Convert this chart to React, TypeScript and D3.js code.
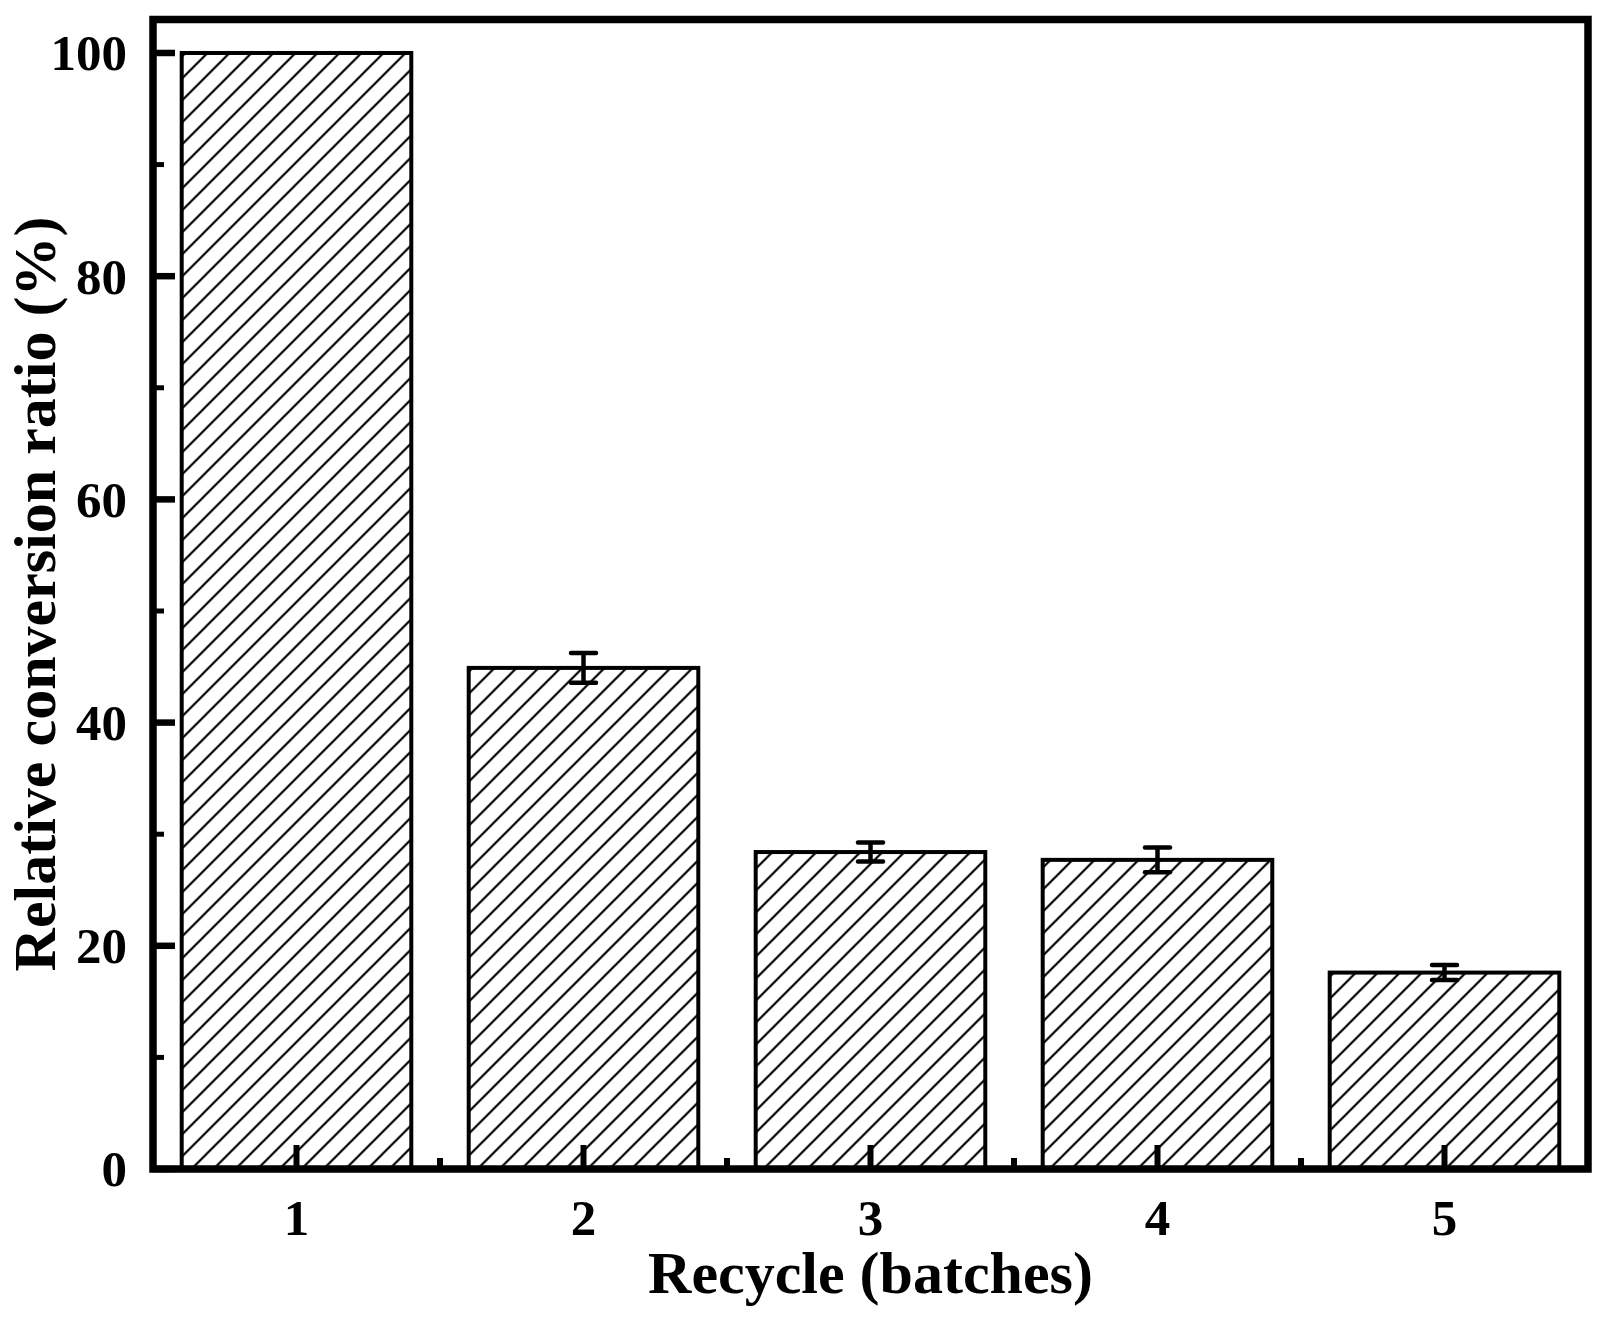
import * as d3 from "d3";

// Dados
const batches = [1, 2, 3, 4, 5];
const conversao = [100, 44.9, 28.4, 27.7, 17.6];
const erro = [0, 1.33, 0.85, 1.1, 0.67];
const yTicks = [0, 20, 40, 60, 80, 100];
const yMinorTicks = [10, 30, 50, 70, 90];
const xMinorTicks = [1.5, 2.5, 3.5, 4.5];

const WIDTH = 1606;
const HEIGHT = 1326;
const FONT = "'Liberation Serif', 'Times New Roman', serif";

const App = () => {
  const margin = { top: 19.5, right: 18, bottom: 157, left: 153 };
  const innerW = WIDTH - margin.left - margin.right;
  const innerH = HEIGHT - margin.top - margin.bottom;

  const xScale = d3.scaleLinear().domain([0.5, 5.5]).range([0, innerW]);
  const yScale = d3.scaleLinear().domain([0, 103]).range([innerH, 0]);

  const barW = (xScale(2) - xScale(1)) * 0.8;
  const capW = 25;

  return (
    <svg
      width={WIDTH}
      height={HEIGHT}
      style={{ position: "absolute", left: 0, top: 0, background: "#fff" }}
      fontFamily={FONT}
      fontWeight="bold"
    >
      <defs>
        <pattern id="hachura" patternUnits="userSpaceOnUse" width={22} height={22}>
          <path
            d="M-5.5,5.5 L5.5,-5.5 M0,22 L22,0 M16.5,27.5 L27.5,16.5"
            stroke="#000"
            strokeWidth={2.2}
          />
        </pattern>
      </defs>
      <g transform={`translate(${margin.left},${margin.top})`}>
        {/* Barras */}
        {batches.map((b, i) => (
          <rect
            key={`bar-${b}`}
            x={xScale(b) - barW / 2}
            y={yScale(conversao[i])}
            width={barW}
            height={innerH - yScale(conversao[i])}
            fill="url(#hachura)"
            stroke="#000"
            strokeWidth={4}
          />
        ))}

        {/* Barras de erro */}
        {batches.map((b, i) =>
          erro[i] > 0 ? (
            <g key={`err-${b}`} stroke="#000" strokeWidth={4.5}>
              <line
                x1={xScale(b)}
                x2={xScale(b)}
                y1={yScale(conversao[i] + erro[i])}
                y2={yScale(conversao[i] - erro[i])}
              />
              <line
                x1={xScale(b) - capW / 2}
                x2={xScale(b) + capW / 2}
                y1={yScale(conversao[i] + erro[i])}
                y2={yScale(conversao[i] + erro[i])}
                strokeLinecap="round"
              />
              <line
                x1={xScale(b) - capW / 2}
                x2={xScale(b) + capW / 2}
                y1={yScale(conversao[i] - erro[i])}
                y2={yScale(conversao[i] - erro[i])}
                strokeLinecap="round"
              />
            </g>
          ) : null
        )}

        {/* Ticks do eixo Y (para dentro) */}
        {yTicks.map((t) => (
          <line key={`yt-${t}`} x1={0} x2={22} y1={yScale(t)} y2={yScale(t)} stroke="#000" strokeWidth={6.5} />
        ))}
        {yMinorTicks.map((t) => (
          <line key={`ym-${t}`} x1={0} x2={11} y1={yScale(t)} y2={yScale(t)} stroke="#000" strokeWidth={5} />
        ))}

        {/* Ticks do eixo X (para dentro) */}
        {batches.map((b) => (
          <line key={`xt-${b}`} x1={xScale(b)} x2={xScale(b)} y1={innerH} y2={innerH - 24} stroke="#000" strokeWidth={6} />
        ))}
        {xMinorTicks.map((t) => (
          <line key={`xm-${t}`} x1={xScale(t)} x2={xScale(t)} y1={innerH} y2={innerH - 11} stroke="#000" strokeWidth={6} />
        ))}

        {/* Moldura */}
        <rect x={0} y={0} width={innerW} height={innerH} fill="none" stroke="#000" strokeWidth={7.5} />

        {/* Rótulos Y */}
        {yTicks.map((t) => (
          <text key={`yl-${t}`} x={-26} y={yScale(t)} dy="0.34em" textAnchor="end" fontSize={51}>
            {t}
          </text>
        ))}

        {/* Rótulos X */}
        {batches.map((b) => (
          <text key={`xl-${b}`} x={xScale(b)} y={innerH + 66} textAnchor="middle" fontSize={51}>
            {b}
          </text>
        ))}

        {/* Títulos dos eixos */}
        <text x={innerW / 2} y={innerH + 124} textAnchor="middle" fontSize={60}>
          Recycle (batches)
        </text>
        <text
          transform={`translate(${55 - margin.left},${594 - margin.top}) rotate(-90)`}
          textAnchor="middle"
          fontSize={60}
        >
          Relative conversion ratio (%)
        </text>
      </g>
    </svg>
  );
};

export default App;
